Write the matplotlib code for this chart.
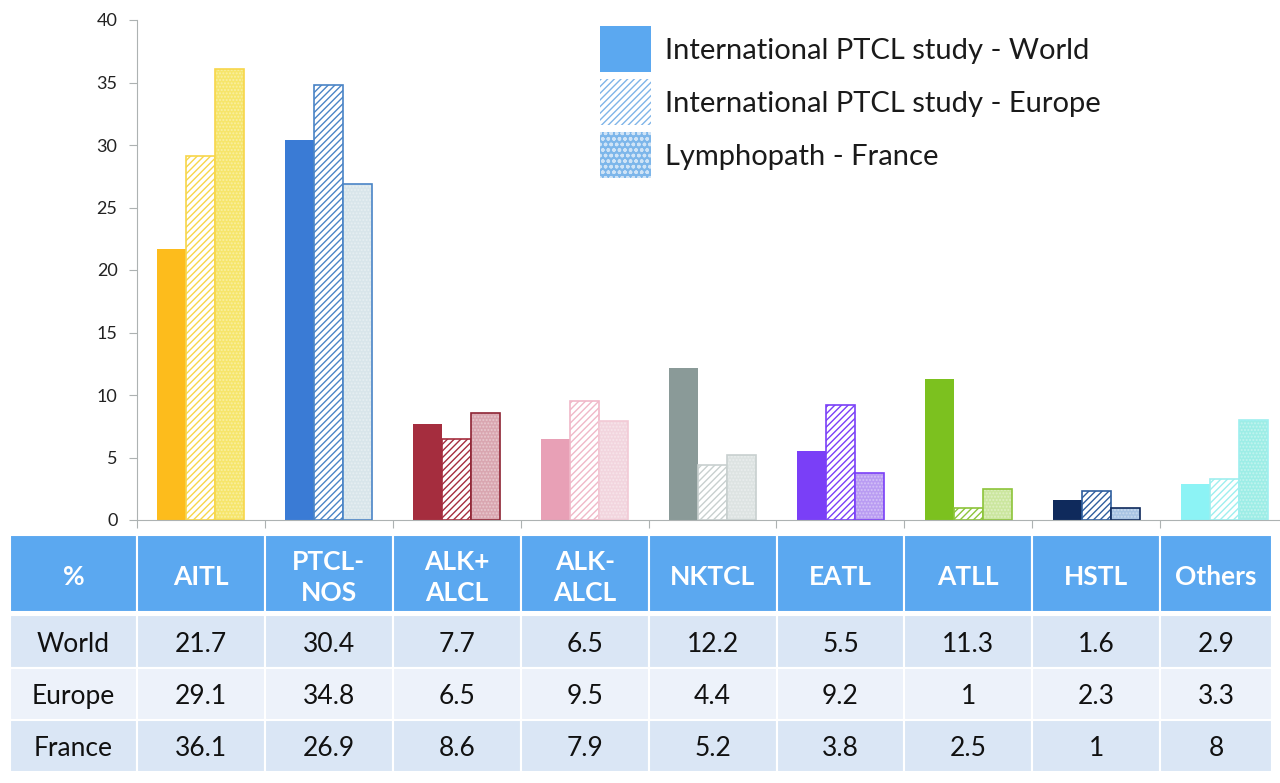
import matplotlib
matplotlib.use("Agg")
import matplotlib.pyplot as plt
from matplotlib.patches import Rectangle, Patch
import numpy as np

plt.rcParams['font.family'] = ['Lato', 'DejaVu Sans']
plt.rcParams['hatch.linewidth'] = 1.0

categories = ['AITL', 'PTCL-\nNOS', 'ALK+\nALCL', 'ALK-\nALCL', 'NKTCL', 'EATL', 'ATLL', 'HSTL', 'Others']
world = [21.7, 30.4, 7.7, 6.5, 12.2, 5.5, 11.3, 1.6, 2.9]
europe = [29.1, 34.8, 6.5, 9.5, 4.4, 9.2, 1, 2.3, 3.3]
france = [36.1, 26.9, 8.6, 7.9, 5.2, 3.8, 2.5, 1, 8]
row_names = ['World', 'Europe', 'France']
series_labels = ['International PTCL study - World',
                 'International PTCL study - Europe',
                 'Lymphopath - France']

# colours per category
world_c = ['#FDBC1C', '#3A7BD5', '#A52D3E', '#E8A0B6', '#8A9A98', '#7A3FF7', '#7CC11F', '#0F2A5C', '#8CF3F5']
europe_c = ['#F7D64A', '#4A84C6', '#A52D3E', '#F0B8C8', '#C8D0CF', '#7A3FF7', '#8CC43A', '#2E5E9E', '#9EEFEF']
france_c = ['#F6E56A', '#D8E5EA', '#D9A6B0', '#F2D5DE', '#DDE3E2', '#B99CF2', '#CBE69E', '#A8C4E4', '#9DEDE6']
edge_c = ['#F7D64A', '#4A84C6', '#8E2434', '#F2C9D5', '#C8D0CF', '#7A3FF7', '#8CC43A', '#0F2A5C', '#9EEFEF']

fig = plt.figure(figsize=(12.8, 7.83), dpi=100)
W, H = 1280, 783
cw = 127.9  # pixel width of one category
n = len(categories)
ax = fig.add_axes([137 / W, (H - 520) / H, n * cw / W, 500 / H])

x = np.arange(n) + 0.5
bw = 0.227

ax.bar(x - bw, world, bw, color=world_c, linewidth=0)
ax.bar(x, europe, bw, color='white', edgecolor=europe_c, hatch='/////', linewidth=0)
ax.bar(x, europe, bw, color='none', edgecolor=europe_c, linewidth=1.2)
ax.bar(x + bw, france, bw, color=france_c, linewidth=0)
ax.bar(x + bw, france, bw, color='none', edgecolor='white', hatch='.....', linewidth=0, alpha=0.35)
ax.bar(x + bw, france, bw, color='none', edgecolor=edge_c, linewidth=1.2)

ax.set_xlim(0, n)
ax.set_ylim(0, 40)
ax.set_yticks(range(0, 41, 5))
ax.set_xticks(range(n + 1))
ax.set_xticklabels([])
for s in ['top', 'right']:
    ax.spines[s].set_visible(False)
for s in ['left', 'bottom']:
    ax.spines[s].set_color('#ADB2B2')
ax.tick_params(axis='y', length=6, color='#ADB2B2', labelsize=13, labelcolor='#222222', pad=8)
ax.tick_params(axis='x', length=6, color='#ADB2B2', direction='out')

handles = [Patch(facecolor='#5BA8F0', linewidth=0),
           Patch(facecolor='white', edgecolor='#7FB4E8', hatch='/////', linewidth=0),
           Patch(facecolor='#7DB6EA', edgecolor='#CFE3F6', hatch='ooo', linewidth=0)]
leg = ax.legend(handles, series_labels, loc='upper left',
                bbox_to_anchor=((600 - 137 - 20) / (n * cw), 1.0 + 14 / 500),
                frameon=False, fontsize=21, handlelength=1.72, handleheight=2.05,
                labelspacing=0.24, handletextpad=0.5, borderaxespad=0.3)
for t in leg.get_texts():
    t.set_color('#1a1a1a')

# table drawn below the chart
right_px = 1272
x_right = (right_px - 137) / cw
tax = fig.add_axes([10 / W, (H - 772) / H, (right_px - 10) / W, (772 - 533) / H])
tax.set_xlim(-127 / cw, x_right)
tax.set_ylim(772, 533)
tax.axis('off')

col_edges = [-127 / cw] + list(range(n)) + [x_right]
header = ['%'] + categories
rows_y = [(535, 612), (615, 668), (668, 720), (720, 772)]
row_fill = ['#5BA8F0', '#DAE6F5', '#EDF2FA', '#DAE6F5']
table_vals = [world, europe, france]

for r, (y0, y1) in enumerate(rows_y):
    for c in range(len(header)):
        x0, x1 = col_edges[c], col_edges[c + 1]
        tax.add_patch(Rectangle((x0, y0), x1 - x0, y1 - y0, facecolor=row_fill[r],
                                edgecolor='white', linewidth=1.5))
        yc = (y0 + y1) / 2 + 3
        if r == 0:
            tax.text((x0 + x1) / 2, yc + 1, header[c], ha='center', va='center',
                     color='white', fontsize=19, fontweight='bold', linespacing=1.35)
        else:
            txt = row_names[r - 1] if c == 0 else '{:g}'.format(table_vals[r - 1][c - 1])
            tax.text((x0 + x1) / 2, yc, txt, ha='center', va='center',
                     color='#111111', fontsize=19)

fig.savefig('out.png', dpi=100)
